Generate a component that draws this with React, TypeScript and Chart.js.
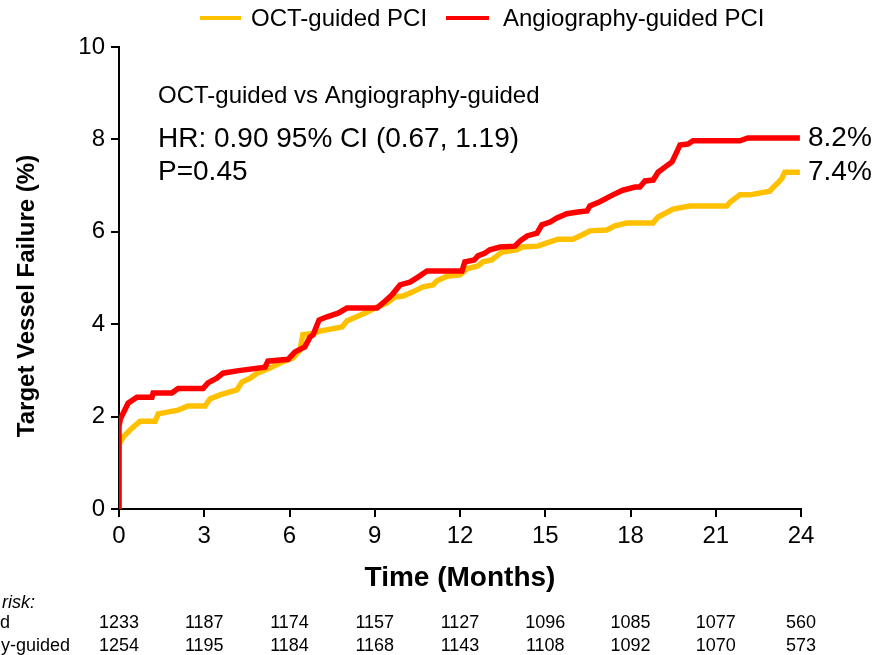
import React, { useEffect, useRef } from "react";
import { Chart, registerables } from "chart.js";

Chart.register(...registerables);

const FONT = "Arial, 'Liberation Sans', Helvetica, sans-serif";

const seriesNames = ["OCT-guided PCI", "Angiography-guided PCI"];
const seriesColors = ["#FFC000", "#FF0000"];

// OCT-guided curve (months, %)
const octMonths = [0, 0, 0.15, 0.39, 0.74, 1.27, 1.38, 2.08, 2.43, 3.03, 3.2, 3.55, 4.15, 4.33, 4.61, 4.86, 5.31, 5.67, 6.12, 6.37, 6.47, 6.83, 7.07, 7.85, 8.02, 8.66, 9.08, 9.43, 9.71, 10.0, 10.34, 10.7, 11.05, 11.19, 11.54, 12.0, 12.24, 12.63, 12.81, 13.12, 13.3, 13.48, 14.0, 14.18, 14.74, 15.06, 15.45, 15.97, 16.29, 16.57, 17.17, 17.45, 17.87, 18.79, 18.97, 19.5, 20.09, 21.39, 21.5, 21.85, 22.2, 22.9, 23.0, 23.19, 23.33, 23.43, 23.96];
const octRates = [0, 1.4, 1.56, 1.71, 1.9, 1.9, 2.06, 2.14, 2.23, 2.23, 2.38, 2.47, 2.58, 2.75, 2.83, 2.94, 3.05, 3.16, 3.27, 3.44, 3.77, 3.8, 3.85, 3.94, 4.07, 4.24, 4.37, 4.46, 4.59, 4.61, 4.7, 4.81, 4.85, 4.94, 5.04, 5.07, 5.2, 5.26, 5.35, 5.39, 5.48, 5.56, 5.61, 5.67, 5.69, 5.76, 5.84, 5.84, 5.93, 6.02, 6.04, 6.13, 6.19, 6.19, 6.32, 6.49, 6.56, 6.56, 6.64, 6.8, 6.8, 6.88, 6.95, 7.06, 7.16, 7.29, 7.29];

// Angiography-guided curve (months, %)
const angMonths = [0, 0, 0.05, 0.32, 0.63, 1.16, 1.2, 1.86, 2.08, 2.96, 3.13, 3.44, 3.66, 4.15, 5.14, 5.24, 5.95, 6.19, 6.54, 6.72, 6.83, 7.04, 7.32, 7.71, 8.02, 9.08, 9.29, 9.6, 9.89, 10.24, 10.52, 10.84, 12.07, 12.17, 12.5, 12.63, 12.88, 13.05, 13.41, 13.93, 14.11, 14.36, 14.71, 14.88, 15.17, 15.41, 15.76, 16.15, 16.47, 16.57, 16.92, 17.38, 17.73, 18.16, 18.33, 18.51, 18.8, 18.97, 19.21, 19.46, 19.63, 19.74, 20.02, 20.2, 21.85, 22.13, 23.96];
const angRates = [0, 1.8, 1.95, 2.29, 2.42, 2.42, 2.51, 2.51, 2.61, 2.61, 2.73, 2.83, 2.94, 2.99, 3.07, 3.2, 3.24, 3.4, 3.51, 3.72, 3.77, 4.09, 4.16, 4.24, 4.35, 4.35, 4.46, 4.63, 4.85, 4.91, 5.02, 5.15, 5.15, 5.35, 5.39, 5.48, 5.54, 5.61, 5.67, 5.69, 5.8, 5.91, 5.97, 6.15, 6.21, 6.3, 6.39, 6.43, 6.45, 6.56, 6.65, 6.8, 6.9, 6.97, 6.97, 7.1, 7.12, 7.29, 7.4, 7.51, 7.73, 7.88, 7.9, 7.97, 7.97, 8.03, 8.03];

const endLabels = ["7.4%", "8.2%"];

const riskMonths = [0, 3, 6, 9, 12, 15, 18, 21, 24];
const riskRowLabels = ["OCT-guided", "Angiography-guided"];
const riskOCT = [1233, 1187, 1174, 1157, 1127, 1096, 1085, 1077, 560];
const riskAng = [1254, 1195, 1184, 1168, 1143, 1108, 1092, 1070, 573];

const annotationLines = ["OCT-guided vs Angiography-guided", "HR: 0.90 95% CI (0.67, 1.19)", "P=0.45"];

const xTitle = "Time (Months)";
const yTitle = "Target Vessel Failure (%)";

function toPoints(xs: number[], ys: number[]) {
  return xs.map((x, i) => ({ x, y: ys[i] }));
}

const overlayPlugin = {
  id: "overlay",
  afterDraw(chart: any) {
    const ctx = chart.ctx as CanvasRenderingContext2D;
    const xs = chart.scales.x;
    const ys = chart.scales.y;
    ctx.save();
    ctx.fillStyle = "#000";

    // Legend
    const legendY = 18;
    const legendItems = [
      { x0: 200, x1: 241, tx: 251 },
      { x0: 446, x1: 489, tx: 503 },
    ];
    legendItems.forEach((it, i) => {
      ctx.strokeStyle = seriesColors[i];
      ctx.lineWidth = 4;
      ctx.beginPath();
      ctx.moveTo(it.x0, legendY);
      ctx.lineTo(it.x1, legendY);
      ctx.stroke();
      ctx.fillStyle = "#000";
      ctx.font = `24px ${FONT}`;
      ctx.textAlign = "left";
      ctx.textBaseline = "middle";
      ctx.fillText(seriesNames[i], it.tx, legendY + 1);
    });

    // Annotation
    ctx.textAlign = "left";
    ctx.textBaseline = "middle";
    ctx.font = `24px ${FONT}`;
    ctx.fillText(annotationLines[0], 158, 96);
    ctx.font = `28px ${FONT}`;
    ctx.fillText(annotationLines[1], 158, 139);
    ctx.fillText(annotationLines[2], 158, 172);

    // End labels
    ctx.font = `28px ${FONT}`;
    ctx.fillText(endLabels[1], 808, ys.getPixelForValue(angRates[angRates.length - 1]));
    ctx.fillText(endLabels[0], 808, ys.getPixelForValue(octRates[octRates.length - 1]));

    // Axis titles
    ctx.font = `bold 28px ${FONT}`;
    ctx.textAlign = "center";
    ctx.fillText(xTitle, (xs.left + xs.right) / 2, 578);
    ctx.save();
    ctx.translate(27, 296);
    ctx.rotate(-Math.PI / 2);
    ctx.font = `bold 24px ${FONT}`;
    ctx.fillText(yTitle, 0, 0);
    ctx.restore();

    // At-risk table
    ctx.font = `italic 18px ${FONT}`;
    ctx.textAlign = "right";
    ctx.fillText("No. at risk:", 35, 603);
    ctx.font = `18px ${FONT}`;
    ctx.fillText(riskRowLabels[0], 10, 623);
    ctx.fillText(riskRowLabels[1], 70, 646);
    ctx.textAlign = "center";
    riskMonths.forEach((m, i) => {
      const px = xs.getPixelForValue(m);
      ctx.fillText(String(riskOCT[i]), px, 623);
      ctx.fillText(String(riskAng[i]), px, 646);
    });
    ctx.restore();
  },
};

export default function App() {
  const ref = useRef<HTMLCanvasElement | null>(null);

  useEffect(() => {
    if (!ref.current) return;
    const chart = new Chart(ref.current, {
      type: "line",
      data: {
        datasets: [
          {
            label: seriesNames[0],
            data: toPoints(octMonths, octRates),
            borderColor: seriesColors[0],
            backgroundColor: seriesColors[0],
            borderWidth: 5.5,
            pointRadius: 0,
            tension: 0,
            order: 1,
          },
          {
            label: seriesNames[1],
            data: toPoints(angMonths, angRates),
            borderColor: seriesColors[1],
            backgroundColor: seriesColors[1],
            borderWidth: 5.5,
            pointRadius: 0,
            tension: 0,
            order: 0,
          },
        ],
      },
      options: {
        responsive: false,
        animation: false,
        devicePixelRatio: 1,
        layout: { padding: { left: 0, top: 47, right: 74, bottom: 0 } },
        plugins: {
          legend: { display: false },
          tooltip: { enabled: false },
          title: { display: false },
        },
        scales: {
          x: {
            type: "linear",
            min: 0,
            max: 24,
            afterFit: (s: any) => {
              s.height = 146;
            },
            ticks: {
              stepSize: 3,
              color: "#000",
              font: { family: FONT, size: 24 },
              padding: 5,
              maxRotation: 0,
            },
            grid: {
              display: true,
              drawOnChartArea: false,
              drawTicks: true,
              tickLength: 8,
              color: "#000",
              lineWidth: 2,
            },
            border: { display: true, color: "#000", width: 2 },
          },
          y: {
            type: "linear",
            min: 0,
            max: 10,
            afterFit: (s: any) => {
              s.width = 119;
            },
            ticks: {
              stepSize: 2,
              color: "#000",
              font: { family: FONT, size: 24 },
              padding: 6,
            },
            grid: {
              display: true,
              drawOnChartArea: false,
              drawTicks: true,
              tickLength: 8,
              color: "#000",
              lineWidth: 2,
            },
            border: { display: true, color: "#000", width: 2 },
          },
        },
      },
      plugins: [overlayPlugin],
    } as any);
    return () => chart.destroy();
  }, []);

  return (
    <div style={{ position: "fixed", left: 0, top: 0, width: 875, height: 655, background: "#fff" }}>
      <canvas ref={ref} width={875} height={655} style={{ display: "block", width: 875, height: 655 }} />
    </div>
  );
}
